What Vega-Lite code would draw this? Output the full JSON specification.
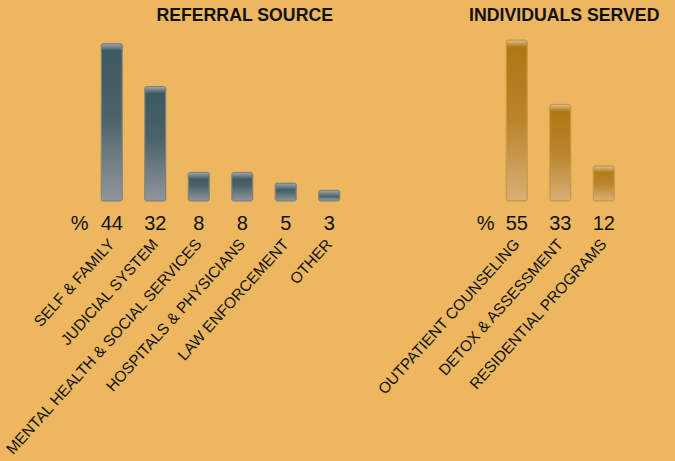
{
  "$schema": "https://vega.github.io/schema/vega-lite/v6.json",
  "background": "#ECB75F",
  "padding": {"left": 2, "top": 6, "right": 17, "bottom": 4},
  "bounds": "flush",
  "spacing": 144,
  "config": {
    "view": {"stroke": null},
    "font": "Liberation Sans",
    "axis": {"grid": false}
  },
  "hconcat": [
    {
      "title": {"text": "REFERRAL SOURCE", "anchor": "end", "dx": -18, "fontSize": 17.7, "fontWeight": "bold", "color": "#111111", "offset": 15},
      "data": {"values": [
        {"source": "SELF & FAMILY", "pct": 44},
        {"source": "JUDICIAL SYSTEM", "pct": 32},
        {"source": "MENTAL HEALTH & SOCIAL SERVICES", "pct": 8},
        {"source": "HOSPITALS & PHYSICIANS", "pct": 8},
        {"source": "LAW ENFORCEMENT", "pct": 5},
        {"source": "OTHER", "pct": 3}
      ]},
      "width": 261,
      "height": 161,
      "encoding": {
        "x": {"field": "source", "type": "nominal", "sort": null,
          "scale": {"paddingInner": 0.517, "paddingOuter": 0.2585},
          "axis": {"title": null, "labelAngle": -48, "labelFontSize": 15.5, "labelPadding": 40, "ticks": false, "domain": false, "labelColor": "#111111", "labelLimit": 400, "labelOverlap": false, "labelFlush": false}}
      },
      "layer": [
        {
          "mark": {"type": "bar", "cornerRadius": 2,
            "fill": {"gradient": "linear", "x1": 0, "y1": 0, "x2": 0, "y2": 1, "stops": [
              {"offset": 0, "color": "#3b5860"},
              {"offset": 0.45, "color": "#4a6167"},
              {"offset": 1, "color": "#92979c"}]}},
          "encoding": {"y": {"field": "pct", "type": "quantitative", "scale": {"domain": [0, 44]}, "axis": null}}
        },
        {
          "mark": {"type": "bar", "cornerRadiusTopLeft": 2, "cornerRadiusTopRight": 2, "y2Offset": 7,
            "fill": {"gradient": "linear", "x1": 0, "y1": 0, "x2": 0, "y2": 1, "stops": [
              {"offset": 0, "color": "#a4a9ac"},
              {"offset": 1, "color": "#3d5a61"}]}},
          "encoding": {"y": {"field": "pct", "type": "quantitative"}, "y2": {"field": "pct"}}
        },
        {
          "mark": {"type": "bar", "cornerRadius": 2, "fill": null, "fillOpacity": 0, "stroke": "#7b8082", "strokeWidth": 1},
          "encoding": {"y": {"field": "pct", "type": "quantitative"}}
        },
        {
          "mark": {"type": "text", "baseline": "alphabetic", "dy": 29, "fontSize": 20, "color": "#111111"},
          "encoding": {"y": {"datum": 0}, "text": {"field": "pct", "type": "quantitative"}}
        },
        {
          "data": {"values": [{"sym": "%", "source": "SELF & FAMILY"}]},
          "mark": {"type": "text", "baseline": "alphabetic", "dy": 29, "dx": -32, "fontSize": 20, "color": "#111111"},
          "encoding": {"y": {"datum": 0}, "text": {"field": "sym"}}
        }
      ]
    },
    {
      "title": {"text": "INDIVIDUALS SERVED", "anchor": "middle", "dx": 4, "fontSize": 17.7, "fontWeight": "bold", "color": "#111111", "offset": 15},
      "data": {"values": [
        {"program": "OUTPATIENT COUNSELING", "pct": 55},
        {"program": "DETOX & ASSESSMENT", "pct": 33},
        {"program": "RESIDENTIAL PROGRAMS", "pct": 12}
      ]},
      "width": 130.5,
      "height": 161,
      "encoding": {
        "x": {"field": "program", "type": "nominal", "sort": null,
          "scale": {"paddingInner": 0.517, "paddingOuter": 0.2585},
          "axis": {"title": null, "labelAngle": -48, "labelFontSize": 15.5, "labelPadding": 40, "ticks": false, "domain": false, "labelColor": "#111111", "labelLimit": 400, "labelOverlap": false, "labelFlush": false}}
      },
      "layer": [
        {
          "mark": {"type": "bar", "cornerRadius": 2,
            "fill": {"gradient": "linear", "x1": 0, "y1": 0, "x2": 0, "y2": 1, "stops": [
              {"offset": 0, "color": "#ae7511"},
              {"offset": 0.5, "color": "#b9842b"},
              {"offset": 1, "color": "#d8b078"}]}},
          "encoding": {"y": {"field": "pct", "type": "quantitative", "scale": {"domain": [0, 55]}, "axis": null}}
        },
        {
          "mark": {"type": "bar", "cornerRadiusTopLeft": 2, "cornerRadiusTopRight": 2, "y2Offset": 7,
            "fill": {"gradient": "linear", "x1": 0, "y1": 0, "x2": 0, "y2": 1, "stops": [
              {"offset": 0, "color": "#dec197"},
              {"offset": 1, "color": "#b07812"}]}},
          "encoding": {"y": {"field": "pct", "type": "quantitative"}, "y2": {"field": "pct"}}
        },
        {
          "mark": {"type": "bar", "cornerRadius": 2, "fill": null, "fillOpacity": 0, "stroke": "#c9953e", "strokeWidth": 1},
          "encoding": {"y": {"field": "pct", "type": "quantitative"}}
        },
        {
          "mark": {"type": "text", "baseline": "alphabetic", "dy": 29, "fontSize": 20, "color": "#111111"},
          "encoding": {"y": {"datum": 0}, "text": {"field": "pct", "type": "quantitative"}}
        },
        {
          "data": {"values": [{"sym": "%", "program": "OUTPATIENT COUNSELING"}]},
          "mark": {"type": "text", "baseline": "alphabetic", "dy": 29, "dx": -31, "fontSize": 20, "color": "#111111"},
          "encoding": {"y": {"datum": 0}, "text": {"field": "sym"}}
        }
      ]
    }
  ]
}
